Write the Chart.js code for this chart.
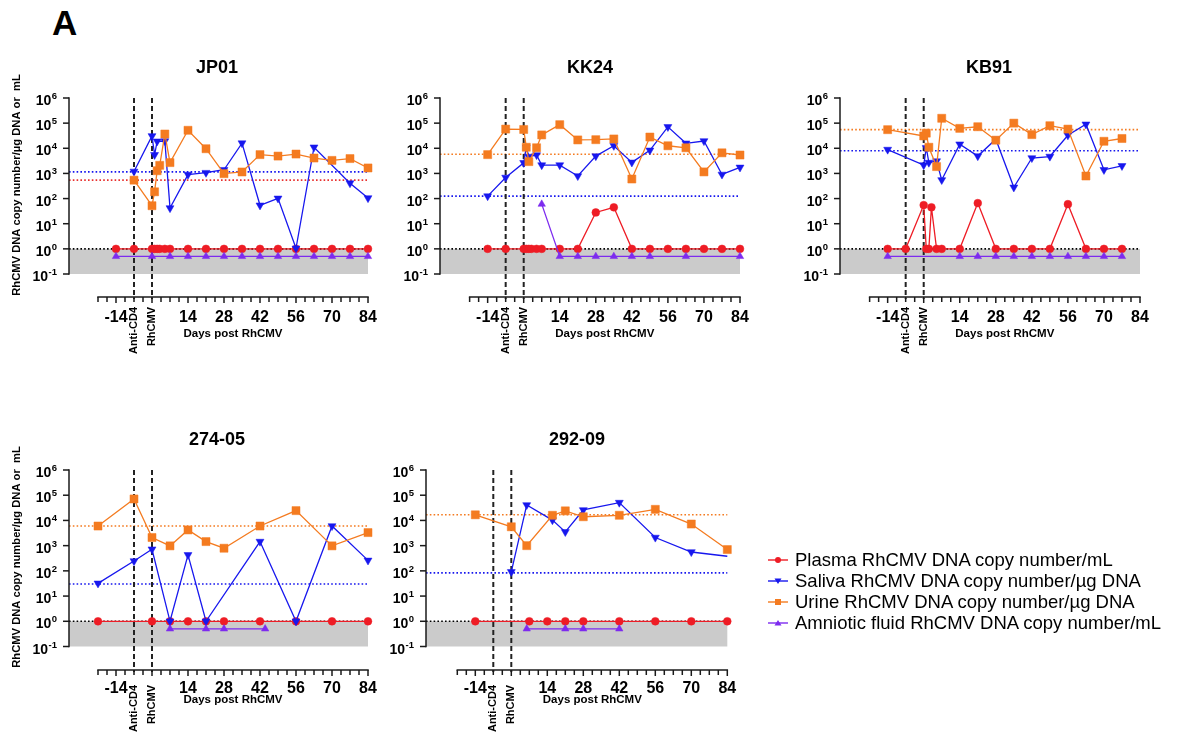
<!DOCTYPE html>
<html>
<head>
<meta charset="utf-8">
<script src="https://cdn.jsdelivr.net/npm/chart.js@4.4.1/dist/chart.umd.min.js"></script>
<style>
html,body{margin:0;padding:0;background:#fff;}
body{width:1181px;height:736px;position:relative;overflow:hidden;font-family:"Liberation Sans",Arial,sans-serif;}
canvas{position:absolute;left:0;top:0;}
#panelA{position:absolute;left:52px;top:5px;font:bold 35px/35px "Liberation Sans",Arial,sans-serif;color:#000;}
#legend{position:absolute;left:766px;top:549px;}
.row{height:21px;display:flex;align-items:center;font-size:18.5px;color:#000;white-space:nowrap;}
.row svg{margin-right:5px;flex:none;}
</style>
</head>
<body>
<div id="panelA">A</div>
<canvas id="c0" width="1181" height="736"></canvas>
<canvas id="c1" width="1181" height="736"></canvas>
<canvas id="c2" width="1181" height="736"></canvas>
<canvas id="c3" width="1181" height="736"></canvas>
<canvas id="c4" width="1181" height="736"></canvas>
<div id="legend"></div>
<script>
// ---------------- DATA ----------------
const seriesNames = [
  'Plasma RhCMV DNA copy number/mL',
  'Saliva RhCMV DNA copy number/\u00b5g DNA',
  'Urine RhCMV DNA copy number/\u00b5g DNA',
  'Amniotic fluid RhCMV DNA copy number/mL'
];
const panelTitles = ['JP01', 'KK24', 'KB91', '274-05', '292-09'];
const xTickLabels = [-14, 14, 28, 42, 56, 70, 84];
const eventDays = [-7, 0];
const eventLabels = ['Anti-CD4', 'RhCMV'];
const yExponents = [-1, 0, 1, 2, 3, 4, 5, 6];
const xAxisTitle = 'Days post RhCMV';
const yAxisTitle = 'RhCMV DNA copy number/\u00b5g DNA or  mL';

// JP01
const JP01_plasmaDays = [-14, -7, 0, 1, 2, 3, 5, 7, 14, 21, 28, 35, 42, 49, 56, 63, 70, 77, 84];
const JP01_plasma     = [1, 1, 1, 1, 1, 1, 1, 1, 1, 1, 1, 1, 1, 1, 1, 1, 1, 1, 1];
const JP01_salivaDays = [-7, 0, 1, 2, 5, 7, 14, 21, 28, 35, 42, 49, 56, 63, 77, 84];
const JP01_saliva     = [1200, 31000, 5500, 19000, 19500, 42, 900, 1070, 1400, 16000, 54, 102, 1.05, 11000, 410, 105];
const JP01_urineDays  = [-7, 0, 1, 2, 3, 5, 7, 14, 21, 28, 35, 42, 49, 56, 63, 70, 77, 84];
const JP01_urine      = [540, 52, 186, 1280, 2100, 37000, 2700, 52000, 9600, 980, 1140, 5600, 4900, 5900, 4100, 3300, 3900, 1650];
const JP01_amnioDays  = [-14, 0, 7, 14, 21, 28, 35, 42, 49, 56, 63, 70, 77, 84];
const JP01_amnio      = [0.5, 0.5, 0.5, 0.5, 0.5, 0.5, 0.5, 0.5, 0.5, 0.5, 0.5, 0.5, 0.5, 0.5];
const JP01_salivaBase = 1150;
const JP01_urineBase  = 540;

// KK24
const KK24_plasmaDays = [-14, -7, 0, 1, 2, 3, 5, 7, 14, 21, 28, 35, 42, 49, 56, 63, 70, 77, 84];
const KK24_plasma     = [1, 1, 1, 1, 1, 1, 1, 1, 1, 1, 28, 45, 1, 1, 1, 1, 1, 1, 1];
const KK24_salivaDays = [-14, -7, 0, 1, 2, 5, 7, 14, 21, 28, 35, 42, 49, 56, 63, 70, 77, 84];
const KK24_saliva     = [125, 690, 2650, 11000, 4700, 5400, 2150, 2150, 790, 4900, 12600, 2750, 8300, 71000, 15800, 19500, 910, 1740];
const KK24_urineDays  = [-14, -7, 0, 1, 2, 5, 7, 14, 21, 28, 35, 42, 49, 56, 63, 70, 77, 84];
const KK24_urine      = [5600, 58000, 56000, 11000, 2950, 10500, 34000, 87000, 21500, 22000, 23500, 600, 28000, 12600, 10500, 1150, 6600, 5400];
const KK24_amnioDays  = [7, 14, 21, 28, 35, 42, 49, 63, 84];
const KK24_amnio      = [60, 0.5, 0.5, 0.5, 0.5, 0.5, 0.5, 0.5, 0.5];
const KK24_salivaBase = 125;
const KK24_urineBase  = 5800;

// KB91
const KB91_plasmaDays = [-14, -7, 0, 1, 2, 3, 5, 7, 14, 21, 28, 35, 42, 49, 56, 63, 70, 77];
const KB91_plasma     = [1, 1, 55, 1, 1, 45, 1, 1, 1, 66, 1, 1, 1, 1, 60, 1, 1, 1];
const KB91_salivaDays = [-14, 0, 1, 2, 5, 7, 14, 21, 28, 35, 42, 49, 56, 63, 70, 77];
const KB91_saliva     = [8900, 2150, 10500, 2700, 3100, 550, 14500, 4900, 23000, 280, 4100, 4700, 33000, 90000, 1390, 2000];
const KB91_urineDays  = [-14, 0, 1, 2, 5, 7, 14, 21, 28, 35, 42, 49, 56, 63, 70, 77];
const KB91_urine      = [55000, 31000, 40000, 11000, 1870, 156000, 62000, 72000, 21000, 100000, 35000, 79000, 58000, 790, 19000, 24500];
const KB91_amnioDays  = [-14, 14, 21, 28, 35, 42, 49, 56, 63, 70, 77];
const KB91_amnio      = [0.5, 0.5, 0.5, 0.5, 0.5, 0.5, 0.5, 0.5, 0.5, 0.5, 0.5];
const KB91_salivaBase = 8000;
const KB91_urineBase  = 55000;

// 274-05
const M27405_plasmaDays = [-21, 0, 7, 14, 21, 28, 42, 56, 70, 84];
const M27405_plasma     = [1, 1, 1, 1, 1, 1, 1, 1, 1, 1];
const M27405_salivaDays = [-21, -7, 0, 7, 14, 21, 42, 56, 70, 84];
const M27405_saliva     = [32, 245, 720, 1, 430, 1, 1450, 1, 6000, 260];
const M27405_urineDays  = [-21, -7, 0, 7, 14, 21, 28, 42, 56, 70, 84];
const M27405_urine      = [6000, 71000, 2100, 980, 4200, 1450, 790, 6000, 24500, 980, 3300];
const M27405_amnioDays  = [7, 21, 28, 44];
const M27405_amnio      = [0.5, 0.5, 0.5, 0.5];
const M27405_salivaBase = 30;
const M27405_urineBase  = 6000;

// 292-09
const M29209_plasmaDays = [-14, 7, 14, 21, 28, 42, 56, 70, 84];
const M29209_plasma     = [1, 1, 1, 1, 1, 1, 1, 1, 1];
const M29209_salivaDays = [0, 6, 16, 21, 28, 42, 56, 70, 84];
const M29209_saliva     = [91, 41000, 10300, 3500, 26000, 51000, 2100, 560, 380];
const M29209_urineDays  = [-14, 0, 6, 16, 21, 28, 42, 56, 70, 84];
const M29209_urine      = [16700, 5600, 1000, 16000, 24000, 14000, 16000, 27500, 7200, 700];
const M29209_amnioDays  = [6, 21, 28, 42];
const M29209_amnio      = [0.5, 0.5, 0.5, 0.5];
const M29209_salivaBase = 83;
const M29209_urineBase  = 16700;

// ---------------- STYLE / LAYOUT ----------------
const W = 1181, H = 736;
const RED = '#ee1c25', BLUE = '#1717ee', ORANGE = '#f47b20', PURPLE = '#7d2bef';
const AXIS = '#1a1a1a';
const FONT = '"Liberation Sans", Arial, sans-serif';

const PANEL_DATA = [
  {pd: JP01_plasmaDays, p: JP01_plasma, sd: JP01_salivaDays, s: JP01_saliva, ud: JP01_urineDays, u: JP01_urine, ad: JP01_amnioDays, a: JP01_amnio, sb: JP01_salivaBase, ub: JP01_urineBase},
  {pd: KK24_plasmaDays, p: KK24_plasma, sd: KK24_salivaDays, s: KK24_saliva, ud: KK24_urineDays, u: KK24_urine, ad: KK24_amnioDays, a: KK24_amnio, sb: KK24_salivaBase, ub: KK24_urineBase},
  {pd: KB91_plasmaDays, p: KB91_plasma, sd: KB91_salivaDays, s: KB91_saliva, ud: KB91_urineDays, u: KB91_urine, ad: KB91_amnioDays, a: KB91_amnio, sb: KB91_salivaBase, ub: KB91_urineBase},
  {pd: M27405_plasmaDays, p: M27405_plasma, sd: M27405_salivaDays, s: M27405_saliva, ud: M27405_urineDays, u: M27405_urine, ad: M27405_amnioDays, a: M27405_amnio, sb: M27405_salivaBase, ub: M27405_urineBase},
  {pd: M29209_plasmaDays, p: M29209_plasma, sd: M29209_salivaDays, s: M29209_saliva, ud: M29209_urineDays, u: M29209_urine, ad: M29209_amnioDays, a: M29209_amnio, sb: M29209_salivaBase, ub: M29209_urineBase}
];

const LAYOUT = [
  {axisX: 69,  top: 98,  yM1: 274,   bottom: 297, day0: 152,   right: 368,   titleX: 217, titleY: 73,  yTitle: true,  yTitleY: 185, numOff: 25,   daysOff: 40, evOff: 10, ubColor: '#e8312f', hideLastSaliva: false},
  {axisX: 440, top: 98,  yM1: 274,   bottom: 297, day0: 523.7, right: 740,   titleX: 590, titleY: 73,  yTitle: false, numOff: 25,   daysOff: 40, evOff: 10, ubColor: ORANGE, hideLastSaliva: false},
  {axisX: 840, top: 98,  yM1: 274,   bottom: 297, day0: 923.7, right: 1140,  titleX: 989, titleY: 73,  yTitle: false, numOff: 25,   daysOff: 40, evOff: 10, ubColor: ORANGE, hideLastSaliva: false},
  {axisX: 69,  top: 470, yM1: 646.5, bottom: 670, day0: 152,   right: 368,   titleX: 217, titleY: 445, yTitle: true,  yTitleY: 557, numOff: 22.5, daysOff: 33, evOff: 15, ubColor: ORANGE, hideLastSaliva: false},
  {axisX: 426, top: 470, yM1: 646.5, bottom: 670, day0: 511.3, right: 727.3, titleX: 577, titleY: 445, yTitle: false, numOff: 22.5, daysOff: 33, evOff: 15, ubColor: ORANGE, hideLastSaliva: true}
];

// ---------------- PLUGIN ----------------
const deco = {
  id: 'panelDeco',
  beforeDatasetsDraw(chart, args, o) {
    const {ctx, chartArea: a, scales: {x, y}} = chart;
    const xr = x.getPixelForValue(84);
    ctx.save();
    const y1 = y.getPixelForValue(1), y01 = y.getPixelForValue(0.1);
    ctx.fillStyle = '#cbcbcb';
    ctx.fillRect(a.left, y1, xr - a.left, y01 - y1);
    const dotted = (val, color) => {
      const py = y.getPixelForValue(val);
      ctx.beginPath();
      ctx.setLineDash([1.6, 2.2]);
      ctx.lineWidth = 1.6;
      ctx.strokeStyle = color;
      ctx.moveTo(a.left, py);
      ctx.lineTo(xr, py);
      ctx.stroke();
    };
    dotted(1, '#000');
    dotted(o.salivaBase, BLUE);
    dotted(o.urineBase, o.L.ubColor);
    ctx.setLineDash([5, 3]);
    ctx.lineWidth = 2;
    ctx.strokeStyle = '#222';
    for (const d of eventDays) {
      const px = x.getPixelForValue(d);
      ctx.beginPath();
      ctx.moveTo(px, y.getPixelForValue(1e6));
      ctx.lineTo(px, a.bottom + 2);
      ctx.stroke();
    }
    ctx.restore();
  },
  afterDraw(chart, args, o) {
    const {ctx, chartArea: a, scales: {x, y}} = chart;
    const L = o.L;
    ctx.save();
    ctx.setLineDash([]);
    ctx.strokeStyle = AXIS;
    ctx.fillStyle = '#000';
    ctx.lineWidth = 1.5;
    const yTop = y.getPixelForValue(Math.pow(10, yExponents[yExponents.length - 1]));
    const yBot = y.getPixelForValue(Math.pow(10, yExponents[0]));
    ctx.beginPath();
    ctx.moveTo(a.left, yBot + 0.75);
    ctx.lineTo(a.left, yTop - 0.75);
    ctx.stroke();
    for (const e of yExponents) {
      const py = y.getPixelForValue(Math.pow(10, e));
      ctx.beginPath();
      ctx.moveTo(a.left - 6, py);
      ctx.lineTo(a.left, py);
      ctx.stroke();
      const xr = a.left - 12;
      ctx.font = 'bold 9.5px ' + FONT;
      ctx.textAlign = 'right';
      ctx.textBaseline = 'alphabetic';
      const sup = String(e);
      const sw = ctx.measureText(sup).width;
      ctx.fillText(sup, xr, py + 1);
      ctx.font = 'bold 14px ' + FONT;
      ctx.fillText('10', xr - sw - 0.5, py + 7);
    }
    const x0 = x.getPixelForValue(-21), x1 = x.getPixelForValue(84);
    ctx.beginPath();
    ctx.moveTo(x0 - 0.75, a.bottom);
    ctx.lineTo(x1 + 0.75, a.bottom);
    ctx.stroke();
    for (let d = -21; d <= 84.001; d += 3.5) {
      const px = x.getPixelForValue(d);
      const len = (Math.abs(d % 14) < 0.01) ? 6 : 5;
      ctx.beginPath();
      ctx.moveTo(px, a.bottom);
      ctx.lineTo(px, a.bottom + len);
      ctx.stroke();
    }
    ctx.font = 'bold 16px ' + FONT;
    ctx.textAlign = 'center';
    ctx.textBaseline = 'alphabetic';
    for (const d of xTickLabels) {
      ctx.fillText(String(d), x.getPixelForValue(d), a.bottom + L.numOff);
    }
    ctx.font = 'bold 11.5px ' + FONT;
    ctx.fillText(xAxisTitle, (x0 + x1) / 2, a.bottom + L.daysOff);
    ctx.font = 'bold 11px ' + FONT;
    eventDays.forEach((d, i) => {
      ctx.save();
      ctx.translate(x.getPixelForValue(d), a.bottom + L.evOff);
      ctx.rotate(-Math.PI / 2);
      ctx.textAlign = 'right';
      ctx.textBaseline = 'middle';
      ctx.fillText(eventLabels[i], 0, 0);
      ctx.restore();
    });
    ctx.font = 'bold 18px ' + FONT;
    ctx.textAlign = 'center';
    ctx.textBaseline = 'alphabetic';
    ctx.fillText(o.title, L.titleX, L.titleY);
    if (L.yTitle) {
      ctx.save();
      ctx.translate(17, L.yTitleY);
      ctx.rotate(-Math.PI / 2);
      ctx.font = 'bold 11.2px ' + FONT;
      ctx.textAlign = 'center';
      ctx.textBaseline = 'middle';
      ctx.fillText(yAxisTitle, 0, 0);
      ctx.restore();
    }
    ctx.restore();
  }
};

function ds(label, days, vals, color, style, rotation, radius, order, hideLast) {
  return {
    label: label,
    data: days.map((d, i) => ({x: d, y: vals[i]})),
    borderColor: color,
    backgroundColor: color,
    borderWidth: 1.3,
    pointStyle: style,
    rotation: rotation,
    pointRadius: hideLast ? (c => (c.dataIndex === days.length - 1 ? 0 : radius)) : radius,
    pointBorderWidth: 0.5,
    pointBorderColor: color,
    pointBackgroundColor: color,
    tension: 0,
    fill: false,
    clip: false,
    order: order
  };
}

PANEL_DATA.forEach((S, i) => {
  const L = LAYOUT[i];
  const pxPerDay = (L.right - L.day0) / 84;
  const xMin = -(L.day0 - L.axisX) / pxPerDay;
  const decade = (L.yM1 - L.top) / 7;
  const yMin = Math.pow(10, -1 - (L.bottom - L.yM1) / decade);
  new Chart(document.getElementById('c' + i), {
    type: 'line',
    data: {
      datasets: [
        ds(seriesNames[0], S.pd, S.p, RED, 'circle', 0, 3.9, 4, false),
        ds(seriesNames[1], S.sd, S.s, BLUE, 'triangle', 180, 4.6, 3, L.hideLastSaliva),
        ds(seriesNames[2], S.ud, S.u, ORANGE, 'rect', 0, 5.7, 2, false),
        ds(seriesNames[3], S.ad, S.a, PURPLE, 'triangle', 0, 4.3, 1, false)
      ]
    },
    options: {
      responsive: false,
      animation: false,
      devicePixelRatio: 1,
      layout: {padding: {left: L.axisX, top: L.top, right: W - L.right, bottom: H - L.bottom}},
      scales: {
        x: {type: 'linear', min: xMin, max: 84, display: false},
        y: {type: 'logarithmic', min: yMin, max: 1e6, display: false}
      },
      plugins: {
        legend: {display: false},
        tooltip: {enabled: false},
        panelDeco: {L: L, title: panelTitles[i], salivaBase: S.sb, urineBase: S.ub}
      }
    },
    plugins: [deco]
  });
});

// ---------------- LEGEND ----------------
const legendColors = [RED, BLUE, ORANGE, PURPLE];
const legendMarkers = [
  c => `<circle cx="12" cy="6" r="3" fill="${c}"/>`,
  c => `<polygon points="8.5,3.5 15.5,3.5 12,9" fill="${c}"/>`,
  c => `<rect x="9" y="3" width="6" height="6" fill="${c}"/>`,
  c => `<polygon points="8.5,8.5 15.5,8.5 12,3" fill="${c}"/>`
];
const leg = document.getElementById('legend');
seriesNames.forEach((name, i) => {
  const row = document.createElement('div');
  row.className = 'row';
  const c = legendColors[i];
  row.innerHTML = `<svg width="24" height="12"><line x1="2" y1="6" x2="22" y2="6" stroke="${c}" stroke-width="1.4"/>${legendMarkers[i](c)}</svg><span></span>`;
  row.querySelector('span').textContent = name;
  leg.appendChild(row);
});
</script>
</body>
</html>
